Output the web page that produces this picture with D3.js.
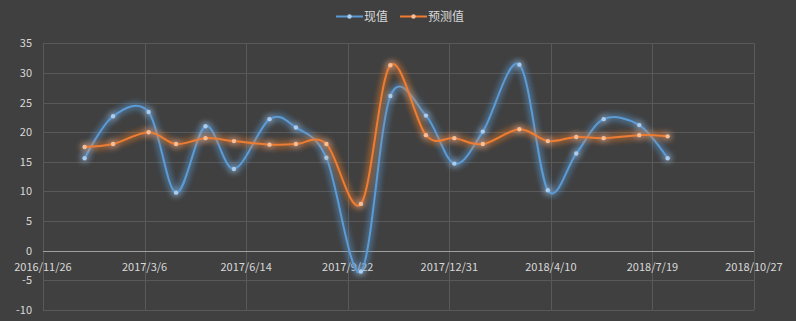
<html>
<head>
  <script src="https://d3js.org/d3.v7.min.js"></script>
  <style>
    body { margin: 0; background: #404040; }
    text { font-family: "Noto Sans CJK SC", "Noto Sans", sans-serif; fill: #d9d9d9; }
  </style>
</head>
<body>
  <svg id="chart" width="796" height="321"></svg>
  <script>
    // data
    const dates = ["2017-01-06", "2017-02-03", "2017-03-10", "2017-04-06", "2017-05-05", "2017-06-02",
      "2017-07-07", "2017-08-02", "2017-09-01", "2017-10-05", "2017-11-03", "2017-12-08",
      "2018-01-05", "2018-02-02", "2018-03-10", "2018-04-07", "2018-05-05", "2018-06-01",
      "2018-07-06", "2018-08-03"];
    const actual = [15.6, 22.7, 23.4, 9.8, 21.0, 13.8, 22.2, 20.8, 15.7, -3.5,
      26.1, 22.8, 14.7, 20.1, 31.4, 10.2, 16.4, 22.2, 21.2, 15.6];
    const predicted = [17.5, 18.0, 20.0, 18.0, 19.0, 18.5, 17.9, 18.0, 18.0, 7.9,
      31.3, 19.5, 19.0, 18.0, 20.5, 18.5, 19.2, 19.0, 19.5, 19.3];
    const seriesNames = ["现值", "预测值"];
    const yTicks = [-10, -5, 0, 5, 10, 15, 20, 25, 30, 35];
    const xTickLabels = ["2016/11/26", "2017/3/6", "2017/6/14", "2017/9/22", "2017/12/31",
      "2018/4/10", "2018/7/19", "2018/10/27"];

    const colors = ["#5b9bd5", "#ed7d31"];
    const markerFill = ["#a9cdf0", "#f7be98"];

    const svg = d3.select('#chart');
    const plotL = 43, plotR = 754, plotT = 43.3, plotB = 310;

    const parse = d3.timeParse('%Y/%m/%d');
    const tickDates = xTickLabels.map(parse);
    const x = d3.scaleTime().domain([tickDates[0], tickDates[tickDates.length - 1]]).range([plotL, plotR]);
    const y = d3.scaleLinear().domain([-10, 35]).range([plotB, plotT]);

    // glow filter
    const defs = svg.append('defs');
    colors.forEach((c, i) => {
      const f = defs.append('filter').attr('id', 'glow' + i)
        .attr('x', '-20%').attr('y', '-20%').attr('width', '140%').attr('height', '140%');
      f.append('feGaussianBlur').attr('in', 'SourceGraphic').attr('stdDeviation', 3.5).attr('result', 'b');
      const m = f.append('feMerge');
      m.append('feMergeNode').attr('in', 'b');
      m.append('feMergeNode').attr('in', 'b');
      m.append('feMergeNode').attr('in', 'SourceGraphic');
    });

    // grid
    const grid = svg.append('g');
    grid.selectAll('line.h').data(yTicks).join('line')
      .attr('x1', plotL).attr('x2', plotR)
      .attr('y1', d => Math.round(y(d)) + 0.5).attr('y2', d => Math.round(y(d)) + 0.5)
      .attr('stroke', '#595959').attr('stroke-width', 1);
    grid.selectAll('line.v').data(tickDates).join('line')
      .attr('x1', d => Math.round(x(d)) + 0.5).attr('x2', d => Math.round(x(d)) + 0.5)
      .attr('y1', plotT).attr('y2', plotB)
      .attr('stroke', '#595959');
    // zero line on top
    svg.append('line').attr('x1', plotL).attr('x2', plotR)
      .attr('y1', Math.round(y(0)) + 0.5).attr('y2', Math.round(y(0)) + 0.5)
      .attr('stroke', '#a0a0a0');

    // y labels
    svg.append('g').selectAll('text').data(yTicks).join('text')
      .attr('x', 32).attr('y', d => y(d) + 4)
      .attr('text-anchor', 'end').attr('font-size', 11).text(d => d);

    // x labels
    svg.append('g').selectAll('text').data(tickDates).join('text')
      .attr('x', d => x(d)).attr('y', y(0) + 20)
      .attr('text-anchor', 'middle').attr('font-size', 11)
      .text((d, i) => xTickLabels[i]);

    // series
    const series = [actual, predicted];
    const xd = i => x(new Date(dates[i] + 'T00:00:00'));
    const line = d3.line().curve(d3.curveCardinal.tension(0))
      .x((d, i) => xd(i)).y(d => y(d));

    series.forEach((vals, si) => {
      const g = svg.append('g').attr('filter', `url(#glow${si})`);
      g.append('path').datum(vals)
        .attr('d', line).attr('fill', 'none')
        .attr('stroke', colors[si]).attr('stroke-width', 2);
      g.selectAll('circle').data(vals).join('circle')
        .attr('cx', (d, i) => xd(i))
        .attr('cy', d => y(d)).attr('r', 2.2)
        .attr('fill', markerFill[si]);
    });

    // legend
    const legend = svg.append('g');
    const lx = [336, 400];
    seriesNames.forEach((n, i) => {
      legend.append('line').attr('x1', lx[i]).attr('x2', lx[i] + 27)
        .attr('y1', 16.5).attr('y2', 16.5).attr('stroke', colors[i]).attr('stroke-width', 2);
      legend.append('circle').attr('cx', lx[i] + 13.5).attr('cy', 16.5).attr('r', 2.2)
        .attr('fill', markerFill[i]);
      legend.append('text').attr('x', lx[i] + 28).attr('y', 21)
        .attr('font-size', 12).text(n);
    });
  </script>
</body>
</html>
